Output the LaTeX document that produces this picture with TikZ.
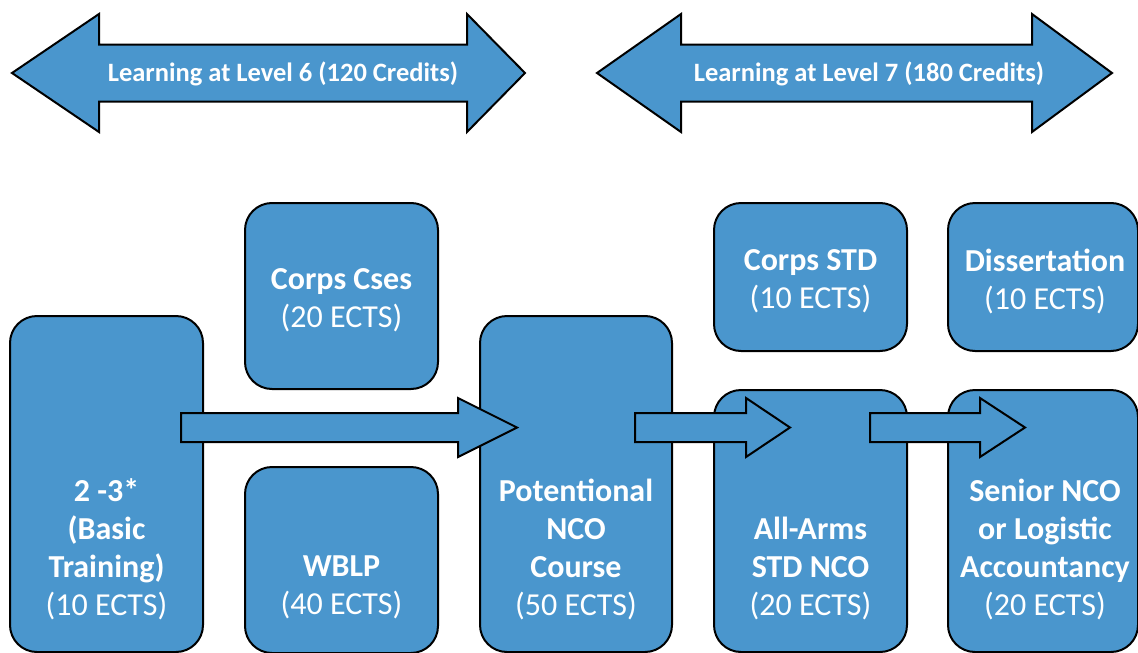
\documentclass[tikz,border=0pt]{standalone}
\usepackage{fontspec}
\setmainfont{Carlito}
\usetikzlibrary{calc}
\definecolor{boxblue}{RGB}{74,150,205}
\tikzset{
 box/.style={draw=black, line width=2pt, fill=boxblue, rounded corners=27pt, inner sep=0pt},
 boxtext/.style={text=white, align=center, font=\fontsize{32}{38}\selectfont, inner sep=0pt},
 hdrtext/.style={text=white, font=\bfseries\fontsize{26.5}{30}\selectfont, inner sep=0pt},
 barrow/.style={draw=black, line width=2pt, fill=boxblue, line join=miter},
}
% double block arrow: #1 left tip, #2 right tip, #3 left head length, #4 right head length
\newcommand{\dblarrow}[4]{%
 \draw[barrow] let \p1=(#1), \p2=(#2) in
 (\x1,\y1) -- (\x1+#3,\y1+59pt) -- (\x1+#3,\y1+28.5pt) -- (\x2-#4,\y1+28.5pt) -- (\x2-#4,\y1+59pt)
 -- (\x2,\y1) -- (\x2-#4,\y1-59pt) -- (\x2-#4,\y1-28.5pt) -- (\x1+#3,\y1-28.5pt) -- (\x1+#3,\y1-59pt) -- cycle;}
% single block arrow: #1 tail, #2 tip, #3 head length
\newcommand{\blkarrow}[3]{%
 \draw[barrow] let \p1=(#1), \p2=(#2) in
 (\x1,\y1+14.5pt) -- (\x2-#3,\y1+14.5pt) -- (\x2-#3,\y1+29.5pt) -- (\x2,\y1)
 -- (\x2-#3,\y1-29.5pt) -- (\x2-#3,\y1-14.5pt) -- (\x1,\y1-14.5pt) -- cycle;}
\begin{document}
\begin{tikzpicture}[x=1pt,y=-1pt]
\useasboundingbox (0,0) rectangle (1138,653);
% top level arrows
\coordinate (l6l) at (12,73);
\coordinate (l6r) at (525,73);
\coordinate (l7l) at (597,73);
\coordinate (l7r) at (1112,73);
\dblarrow{l6l}{l6r}{87pt}{58pt}
\dblarrow{l7l}{l7r}{84pt}{80pt}
\node[hdrtext] (l6t) at (283,74) {Learning at Level 6 (120 Credits)};
\node[hdrtext] (l7t) at (869,74) {Learning at Level 7 (180 Credits)};
% boxes
\node[box, minimum width=193pt, minimum height=336pt] (b1) at (106.5,484) {};
\node[box, minimum width=193pt, minimum height=186pt] (b2) at (341.5,296) {};
\node[box, minimum width=193pt, minimum height=186pt] (b3) at (341.5,560) {};
\node[box, minimum width=192pt, minimum height=336pt] (b4) at (576,484) {};
\node[box, minimum width=193pt, minimum height=148pt] (b5) at (810.5,277) {};
\node[box, minimum width=190pt, minimum height=148pt] (b6) at (1043,277) {};
\node[box, minimum width=193pt, minimum height=262pt] (b7) at (810.5,521) {};
\node[box, minimum width=190pt, minimum height=262pt] (b8) at (1043,521) {};
% flow arrows
\coordinate (a1s) at (181,427.5);
\coordinate (a1e) at (517,427.5);
\coordinate (a2s) at (635,427.5);
\coordinate (a2e) at (790,427.5);
\coordinate (a3s) at (870,427.5);
\coordinate (a3e) at (1025,427.5);
\blkarrow{a1s}{a1e}{59pt}
\blkarrow{a2s}{a2e}{44pt}
\blkarrow{a3s}{a3e}{45pt}
% texts
\node[boxtext] (t1) at (106.5,549) {\textbf{2 -3*}\\\textbf{(Basic}\\\textbf{Training)}\\(10 ECTS)};
\node[boxtext] (t2) at (341.5,300.5) {\textbf{Corps Cses}\\(20 ECTS)};
\node[boxtext] (t3) at (341.5,587) {\textbf{WBLP}\\(40 ECTS)};
\node[boxtext] (t4) at (576,549) {\textbf{Potentional}\\\textbf{NCO}\\\textbf{Course}\\(50 ECTS)};
\node[boxtext] (t5) at (810.5,281) {\textbf{Corps STD}\\(10 ECTS)};
\node[boxtext] (t6) at (1045,281) {\textbf{Dissertation}\\(10 ECTS)};
\node[boxtext] (t7) at (810.5,568) {\textbf{All-Arms}\\\textbf{STD NCO}\\(20 ECTS)};
\node[boxtext] (t8) at (1045,549) {\textbf{Senior NCO}\\\textbf{or Logistic}\\\textbf{Accountancy}\\(20 ECTS)};
\end{tikzpicture}
\end{document}
